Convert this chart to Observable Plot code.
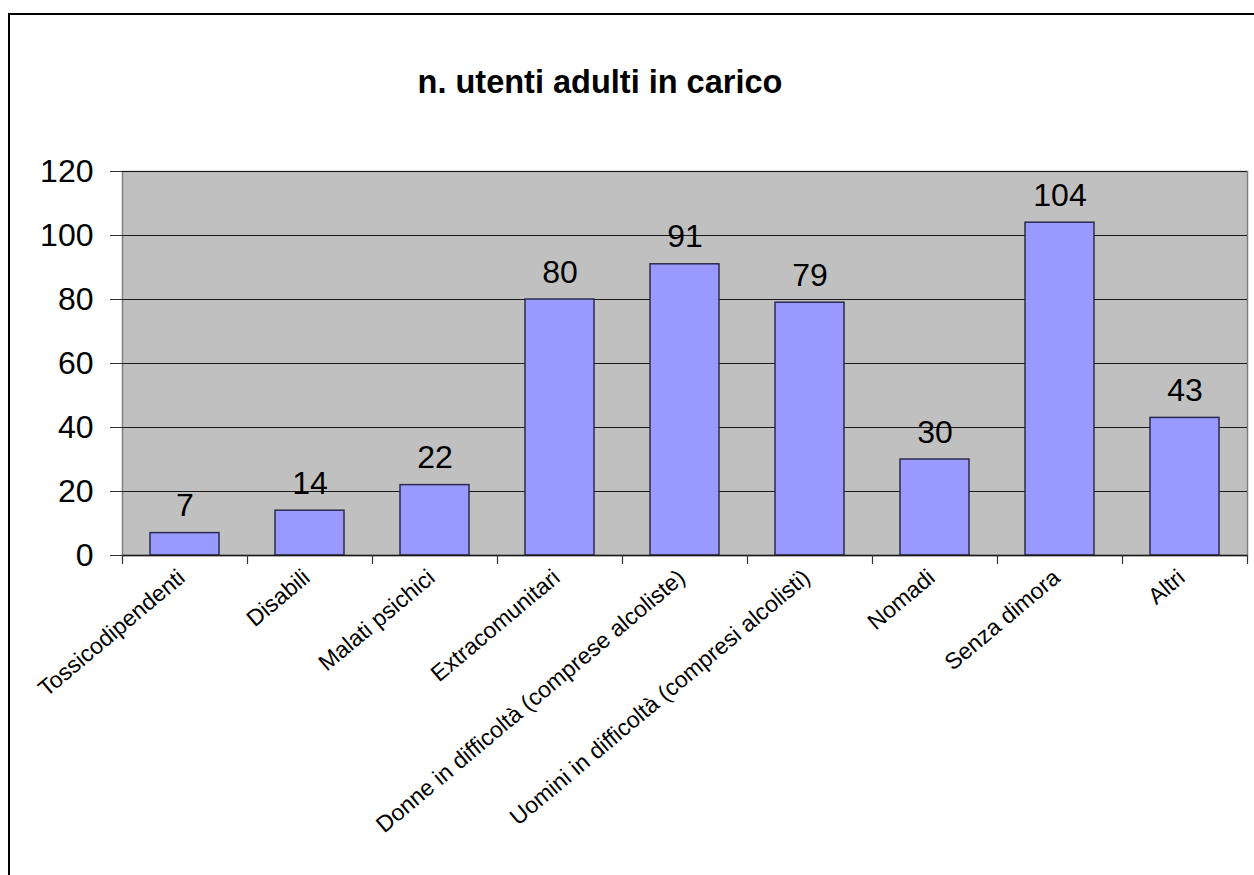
<!DOCTYPE html>
<html>
<head>
<meta charset="utf-8">
<script src="https://cdn.jsdelivr.net/npm/d3@7"></script>
<script src="https://cdn.jsdelivr.net/npm/@observablehq/plot@0.6"></script>
<style>
  html, body { margin: 0; padding: 0; background: #fff; overflow: hidden; width: 1254px; height: 875px; }
  #frame { position: absolute; left: 8px; top: 13px; width: 1400px; height: 1000px; border-left: 2px solid #000; border-top: 2px solid #000; }
  #title { position: absolute; left: 0; top: 64px; width: 1200px; text-align: center; font-family: "Liberation Sans", Arial, sans-serif; font-weight: bold; font-size: 32.5px; color: #000; }
  #chart { position: absolute; left: 0; top: 0; }
</style>
</head>
<body>
<div id="frame"></div>
<div id="chart"></div>
<div id="title">n. utenti adulti in carico</div>
<script>
const categories = [
  "Tossicodipendenti",
  "Disabili",
  "Malati psichici",
  "Extracomunitari",
  "Donne in difficoltà (comprese alcoliste)",
  "Uomini in difficoltà (compresi alcolisti)",
  "Nomadi",
  "Senza dimora",
  "Altri"
];
const values = [7, 14, 22, 80, 91, 79, 30, 104, 43];
const yTicks = [0, 20, 40, 60, 80, 100, 120];

const data = categories.map((c, i) => ({category: c, value: values[i]}));

const W = 1254, H = 875;
const mL = 122, mR = 7, mT = 171, mB = 320;
const step = (W - mL - mR) / categories.length;
const plotH = H - mT - mB;
const font = "'Liberation Sans', Arial, sans-serif";

const chart = Plot.plot({
  width: W,
  height: H,
  marginLeft: mL,
  marginRight: mR,
  marginTop: mT,
  marginBottom: mB,
  style: {fontFamily: font, background: "transparent", overflow: "visible"},
  x: {domain: categories, padding: 0, axis: null},
  y: {domain: [0, 120], axis: null},
  marks: [
    Plot.frame({fill: "#C0C0C0", stroke: "#808080", strokeWidth: 1.5}),
    Plot.gridY(yTicks.filter(d => d > 0), {stroke: "#1a1a1a", strokeOpacity: 1, strokeWidth: 1.2}),
    Plot.axisY(yTicks, {tickSize: 12, tickPadding: 17, fontSize: 32, stroke: "#333", fill: "#000", label: null}),
    Plot.barY(data, {x: "category", y: "value", fill: "#9999FF", stroke: "#2b2b4a", strokeWidth: 1.5, insetLeft: 28, insetRight: 28}),
    Plot.ruleY([0], {stroke: "#1a1a1a", strokeWidth: 1.5}),
    Plot.ruleX(categories, {x: d => d, dx: -step / 2, insetTop: plotH, insetBottom: -9, stroke: "#333", strokeWidth: 1.2}),
    Plot.ruleX(categories.slice(-1), {x: d => d, dx: step / 2, insetTop: plotH, insetBottom: -9, stroke: "#333", strokeWidth: 1.2}),
    Plot.text(data, {x: "category", y: "value", text: d => String(d.value), lineAnchor: "bottom", dy: -17, fontSize: 32, fill: "#000"}),
    Plot.text(data, {x: "category", y: () => 0, text: "category", rotate: -40, textAnchor: "end", lineAnchor: "top", dx: -9, dy: 12, fontSize: 23, fill: "#000"})
  ]
});
document.getElementById("chart").appendChild(chart);
</script>
</body>
</html>
